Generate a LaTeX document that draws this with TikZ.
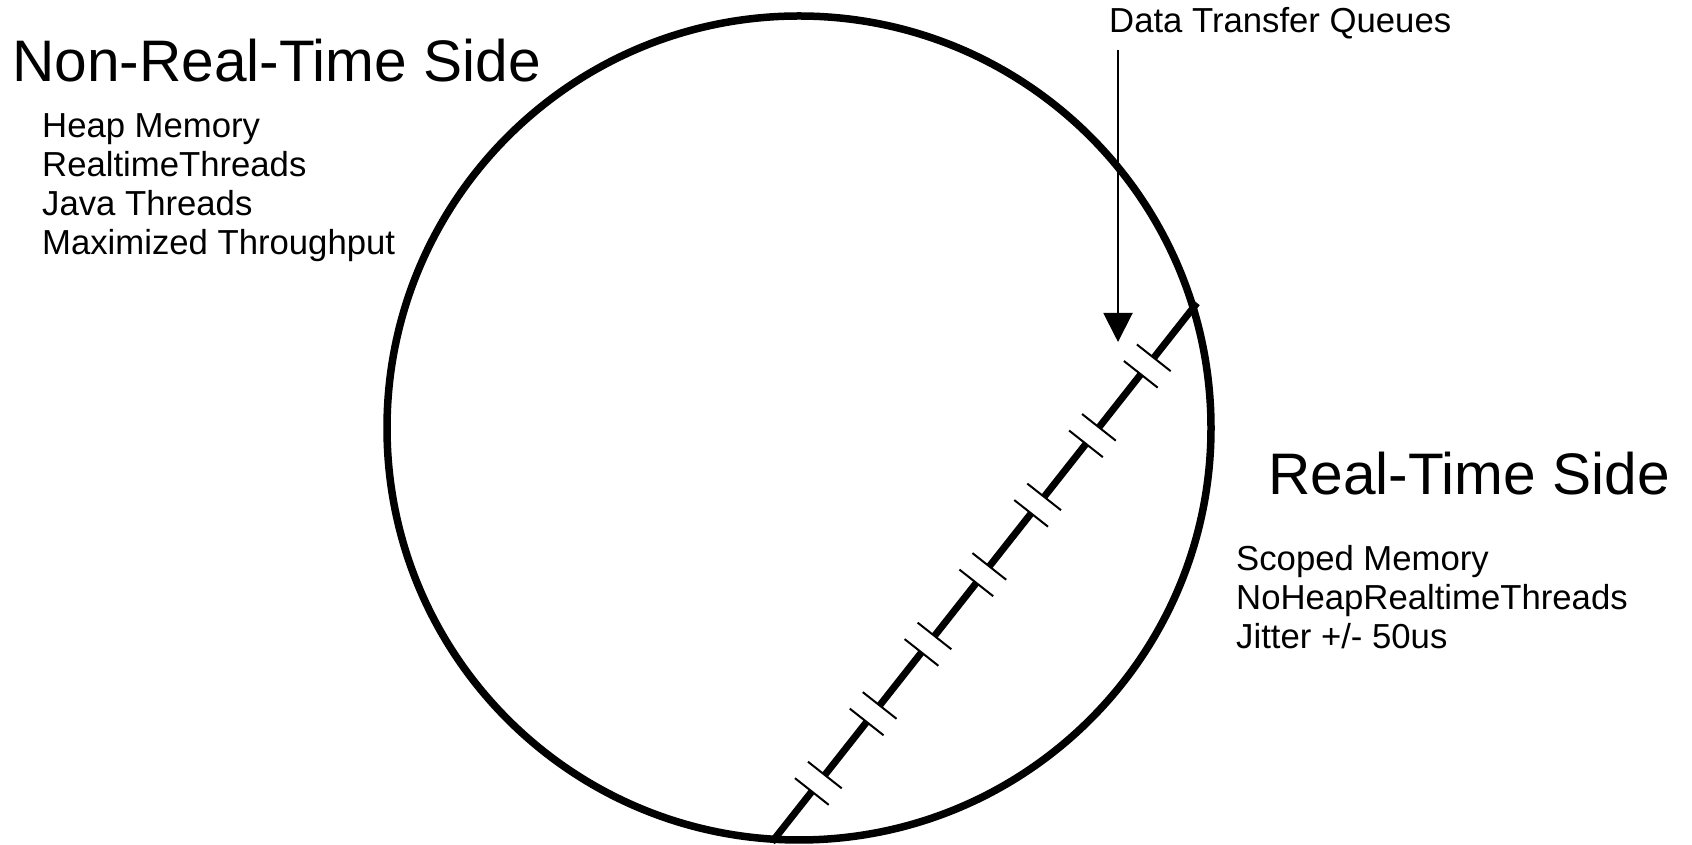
\documentclass[tikz,border=0pt]{standalone}
\usepackage{fontspec}
\setmainfont{Liberation Sans}
\usetikzlibrary{calc,arrows.meta}
\tikzset{
  titletext/.style={anchor=base west, inner sep=0pt, font=\fontsize{58.6}{70}\selectfont},
  bodytext/.style={anchor=base west, inner sep=0pt, font=\fontsize{34.7}{39}\selectfont},
  ring/.style={line width=7.5pt},
  wall/.style={line width=7pt},
  tickline/.style={line width=2pt},
  arrowline/.style={line width=2pt, -{Triangle[width=29pt,length=29pt]}}
}
\begin{document}
\begin{tikzpicture}[x=1pt,y=1pt]
\useasboundingbox (0,0) rectangle (1692,845);
% circle
\coordinate (c) at (799,417);
\draw[ring] (c) circle (412pt);
% diagonal wall with breaks
\coordinate (lb) at (772,3);
\coordinate (lt) at (1197,542);
\foreach \a/\b in {0/0.0937,0.1243/0.2227,0.2533/0.3517,0.3823/0.4807,0.5113/0.6097,0.6403/0.7387,0.7693/0.8677,0.8983/1}{
  \draw[wall] ($(lb)!\a!(lt)$) -- ($(lb)!\b!(lt)$);
}
\foreach \t in {0.109,0.238,0.367,0.496,0.625,0.754,0.883}{
  \coordinate (pc) at ($(lb)!\t!(lt)$);
  \coordinate (pa) at ($(pc)!10.5pt!(lt)$);
  \coordinate (pb) at ($(pc)!10.5pt!(lb)$);
  \draw[tickline] ($(pa)!21.5pt!90:(lt)$) -- ($(pa)!21.5pt!-90:(lt)$);
  \draw[tickline] ($(pb)!21.5pt!90:(lb)$) -- ($(pb)!21.5pt!-90:(lb)$);
}
% texts
\node[titletext] (nrt) at (12,763) {Non-Real-Time Side};
\node[bodytext] (heap) at (42,707) {Heap Memory};
\node[bodytext] (rtt) at (42,668) {RealtimeThreads};
\node[bodytext] (jt) at (42,629) {Java Threads};
\node[bodytext] (mt) at (42,590.5) {Maximized Throughput};
\node[titletext] (rt) at (1268,350) {Real-Time Side};
\node[bodytext] (sm) at (1236,274) {Scoped Memory};
\node[bodytext] (nh) at (1236,235) {NoHeapRealtimeThreads};
\node[bodytext] (jit) at (1236,196) {Jitter +/- 50us};
\node[bodytext] (dtq) at (1109,812) {Data Transfer Queues};
% arrow
\coordinate (arrtop) at (1118,795);
\coordinate (arrtip) at (1118,503);
\draw[arrowline] (arrtop) -- (arrtip);
\end{tikzpicture}
\end{document}
